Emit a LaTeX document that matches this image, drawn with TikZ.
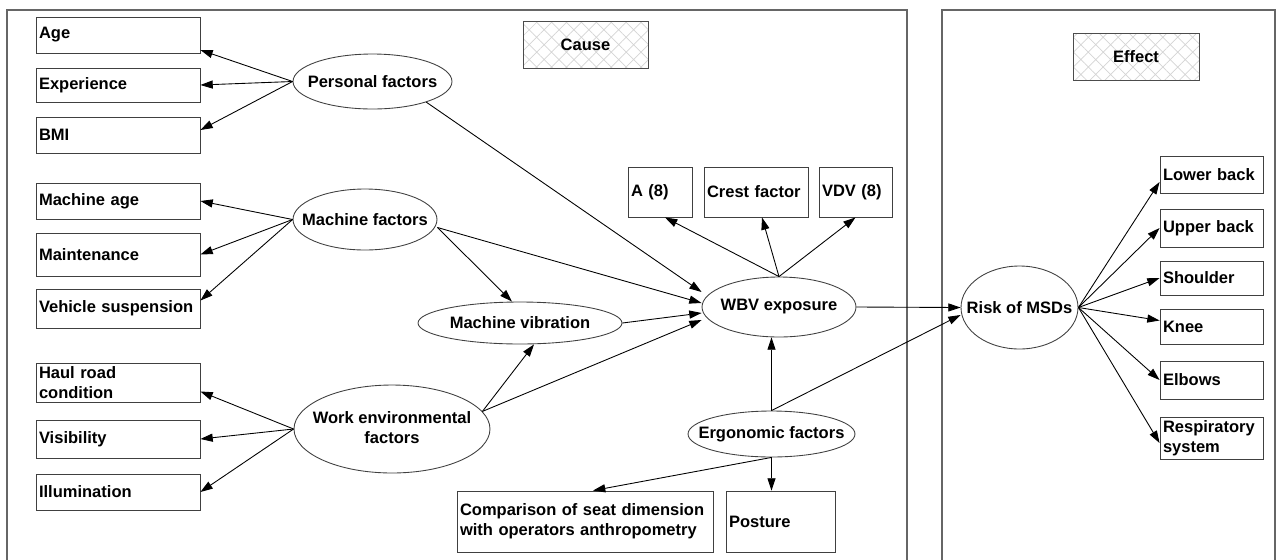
\documentclass[tikz,border=0pt]{standalone}
\usepackage{fontspec}
\setmainfont{Liberation Sans}
\usetikzlibrary{arrows.meta,shapes.geometric,patterns.meta}
\newcommand{\eltext}[1]{\makebox[0pt]{#1}}
\newcommand{\eltwo}[2]{\makebox[0pt]{\begin{tabular}{@{}c@{}}#1\\#2\end{tabular}}}
\tikzset{
  box/.style={draw=black!75, rectangle, align=left, inner xsep=0.06cm, inner ysep=0pt},
  lbox/.style={box, text width=3.16cm},
  rbox/.style={box, text width=1.94cm},
  factor/.style={draw=black!75, ellipse, inner sep=0pt},
  tag/.style={draw=black!70, pattern={Hatch[distance=6pt,angle=45,line width=0.4pt]},
    pattern color=black!17, minimum height=0.94cm},
  frame/.style={draw=black!60, line width=0.8pt},
}
\begin{document}
\begin{tikzpicture}[x=0.02cm,y=-0.02cm,>={Triangle[length=7pt,width=4.6pt]},line width=0.5pt,
    font=\fontsize{9.4}{11.4}\selectfont\bfseries]

    \useasboundingbox (0,0) rectangle (1276,559);

    % cause / effect frames
    \draw[frame] (7,570) -- (7,10) -- (907,10) -- (907,570);
    \draw[frame] (942,570) -- (942,10) -- (1275,10) -- (1275,570);
    \node[tag,minimum width=2.5cm] (Cause) at (585.5,45) {Cause};
    \node[tag,minimum width=2.52cm] (Effect) at (1136,57) {Effect};

    % left column
    \node[lbox,minimum height=0.72cm] (Age) at (118,35) {Age};
    \node[lbox,minimum height=0.68cm] (Exp) at (118,85) {Experience};
    \node[lbox,minimum height=0.72cm] (BMI) at (118,135) {BMI};
    \node[lbox,minimum height=0.72cm] (MAge) at (118,201) {Machine age};
    \node[lbox,minimum height=0.86cm] (Maint) at (118,254.5) {Maintenance};
    \node[lbox,minimum height=0.78cm] (Susp) at (118,308.5) {Vehicle suspension};
    \node[lbox,minimum height=0.78cm] (Road) at (118,382.5) {Haul road\\condition};
    \node[lbox,minimum height=0.76cm] (Vis) at (118,439) {Visibility};
    \node[lbox,minimum height=0.72cm] (Illum) at (118,492) {Illumination};

    % factors
    \node[factor,minimum width=3.18cm,minimum height=1.10cm] (PF) at (372.5,81.5) {\eltext{Personal factors}};
    \node[factor,minimum width=2.88cm,minimum height=1.22cm] (MF) at (365,219.5) {\eltext{Machine factors}};
    \node[factor,minimum width=3.92cm,minimum height=1.76cm] (WEF) at (392,429) {\eltwo{Work environmental}{factors}};
    \node[factor,minimum width=4.08cm,minimum height=0.84cm] (MV) at (520,323) {\eltext{Machine vibration}};
    \node[factor,minimum width=3.08cm,minimum height=1.20cm] (WBV) at (779,307) {\eltext{WBV exposure}};
    \node[factor,minimum width=3.34cm,minimum height=0.92cm] (EF) at (771.5,434) {\eltext{Ergonomic factors}};
    \node[factor,minimum width=2.34cm,minimum height=1.66cm] (Risk) at (1019.5,307.5) {\eltext{Risk of MSDs}};

    % exposure measures
    \node[box,text width=1.16cm,minimum height=1cm] (A8) at (660,192) {A (8)};
    \node[box,text width=1.96cm,minimum height=1cm] (Crest) at (756,192) {Crest factor};
    \node[box,text width=1.34cm,minimum height=1cm] (VDV) at (855.5,192) {VDV (8)};

    % ergonomic items
    \node[box,text width=5.0cm,minimum height=1.22cm] (Seat) at (585,521.5) {Comparison of seat dimension\\with operators anthropometry};
    \node[box,text width=2.06cm,minimum height=1.22cm] (Post) at (780.5,521.5) {Posture};

    % effects
    \node[rbox,minimum height=0.74cm] (LBack) at (1211.5,174.5) {Lower back};
    \node[rbox,minimum height=0.76cm] (UBack) at (1211.5,228) {Upper back};
    \node[rbox,minimum height=0.68cm] (Shld) at (1211.5,278) {Shoulder};
    \node[rbox,minimum height=0.70cm] (Knee) at (1211.5,326.5) {Knee};
    \node[rbox,minimum height=0.76cm] (Elb) at (1211.5,380) {Elbows};
    \node[rbox,minimum height=0.84cm] (Resp) at (1211.5,438) {Respiratory\\system};

    % connectors
    \draw[->] (PF.west) -- ([yshift=-0.3cm]Age.east);
    \draw[->] (PF.west) -- (Exp.east);
    \draw[->] (PF.west) -- ([yshift=0.1cm]BMI.east);
    \draw[->] (MF.west) -- (MAge.east);
    \draw[->] (MF.west) -- (Maint.east);
    \draw[->] (MF.west) -- ([yshift=0.16cm]Susp.east);
    \draw[->] (WEF.west) -- ([yshift=-0.18cm]Road.east);
    \draw[->] (WEF.west) -- (Vis.east);
    \draw[->] (WEF.west) -- (Illum.east);

    \draw[->] (PF.-21) -- ([yshift=0.3cm]WBV.west);
    \draw[->] ([yshift=-0.16cm]MF.east) -- ([yshift=0.08cm]WBV.west);
    \draw[->] ([yshift=-0.16cm]MF.east) -- ([xshift=-0.16cm]MV.north);
    \draw[->] (MV.east) -- ([yshift=-0.12cm]WBV.west);
    \draw[->] (WEF.11) -- ([xshift=0.28cm]MV.south);
    \draw[->] (WEF.11) -- ([yshift=-0.26cm]WBV.west);

    \draw[->] (WBV.north) -- ([xshift=0.1cm]A8.south);
    \draw[->] (WBV.north) -- ([xshift=0.12cm]Crest.south);
    \draw[->] (WBV.north) -- (VDV.south);

    \draw[->] (EF.north) -- (EF.north |- WBV.south);
    \draw[->] (EF.north) -- ([yshift=-0.15cm]Risk.west);
    \draw[->] (WBV.east) -- (Risk.west);
    \draw[->] (EF.south) -- ([xshift=0.16cm]Seat.north);
    \draw[->] (EF.south) -- (EF.south |- Post.north);

    \draw[->] (Risk.east) -- ([yshift=-0.15cm]LBack.west);
    \draw[->] (Risk.east) -- (UBack.west);
    \draw[->] (Risk.east) -- (Shld.west);
    \draw[->] (Risk.east) -- ([yshift=0.12cm]Knee.west);
    \draw[->] (Risk.east) -- (Elb.west);
    \draw[->] (Risk.east) -- ([yshift=-0.1cm]Resp.west);

\end{tikzpicture}
\end{document}
